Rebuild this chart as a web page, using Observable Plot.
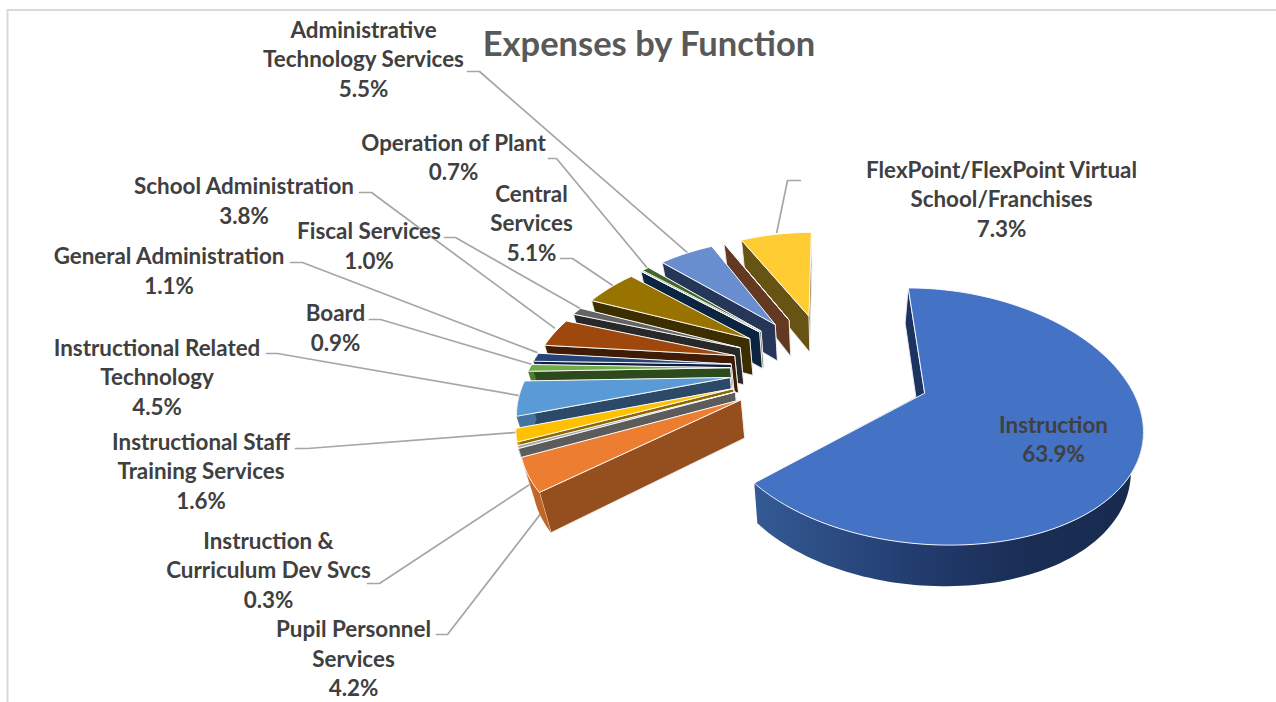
<!DOCTYPE html>
<html>
<head>
<meta charset="utf-8">
<title>Expenses by Function</title>
<script src="https://cdn.jsdelivr.net/npm/d3@7"></script>
<script src="https://cdn.jsdelivr.net/npm/@observablehq/plot@0.6"></script>
<style>
  html, body { margin: 0; padding: 0; background: #fff; }
  svg { display: block; }
</style>
</head>
<body>
<div id="chart"></div>
<script>
// Budget shares in clockwise order from twelve o'clock.
// Two empty categories carry no label but still draw a side wall.
const functions = [
  "Instruction", "Pupil Personnel\nServices", "Instruction &\nCurriculum Dev Svcs",
  "Instructional Staff\nTraining Services", "Instructional Related\nTechnology", "Board",
  "General Administration", "School Administration", "Fiscal Services", "Central\nServices",
  "", "Operation of Plant", "Administrative\nTechnology Services", "",
  "FlexPoint/FlexPoint Virtual\nSchool/Franchises"
];
const shares = [63.9, 4.2, 0.3, 1.6, 4.5, 0.9, 1.1, 3.8, 1.0, 5.1, 0, 0.7, 5.5, 0, 7.3];
const topColors = [
  "#4472C4", "#ED7D31", "#A5A5A5", "#FFC000", "#5B9BD5", "#70AD47", "#264478", "#9E480E",
  "#636363", "#997300", "#255E91", "#43682B", "#698ED0", "#F1975A", "#FFCD33"
];
const wallColors = [
  "#1A3360", "#954F1E", "#5C5C5C", "#8A6A05", "#2C4A68", "#2C4A1C", "#101F3E", "#3F1C05",
  "#282828", "#3D2E00", "#0B2540", "#243A17", "#263659", "#633922", "#675414"
];

// Label placement: centre of the text block, the leader's stub, and a small leader end offset.
const labelLayout = [
  {at: [1053, 437.5]},
  {at: [353, 657], stub: [[436, 634], [447, 634]], nudge: [12, 39]},
  {at: [268, 568.5], stub: [[367, 583], [379, 583]], nudge: [12, 37]},
  {at: [200.5, 469.5], stub: [[295, 448], [307, 448]], nudge: [0, -3]},
  {at: [156.5, 375.5], stub: [[266, 353], [277, 353]], nudge: [1, -3]},
  {at: [335, 326], stub: [[369, 319], [380, 319]], nudge: [1, -4]},
  {at: [168.5, 269], stub: [[290, 262], [302, 262]], nudge: [1, -5]},
  {at: [243.5, 199], stub: [[359, 192], [371, 192]], nudge: [0, -5]},
  {at: [368.5, 244], stub: [[444, 237], [455, 237]], nudge: [3, -3]},
  {at: [531, 221.5], stub: [[560, 258], [572, 258]], nudge: [3, -2]},
  null,
  {at: [453, 155.5], stub: [[548, 158], [556, 158]], nudge: [2, -1]},
  {at: [363, 57.5], stub: [[467, 71], [479, 71]], nudge: [1, -1]},
  null,
  {at: [1001, 197.5], stub: [[800, 180], [787, 180]], nudge: [1, -2]}
];

// Perspective model of the tilted disc, in page pixels.
const view = {cx: 829.5, cy: 367, rx: 200, ry: 115, perspX: 0.2, perspY: 0.178, explode: 0.5, lean: 0.04};

const project = (x, y) => [
  view.cx + view.rx * x / (1 + view.perspX * y),
  view.cy - view.ry * y / (1 + view.perspY * y)
];
// The point under a top-face point, on the bottom face of the pie.
const under = (x, y) => {
  const [X, Y] = project(x, y);
  return [X + (view.cx - X) * view.lean, Y + 37.5 - 3 * y];
};

let running = 0;
const slices = shares.map((value, i) => {
  const a0 = running / 100 * 2 * Math.PI;
  running += value;
  const a1 = running / 100 * 2 * Math.PI;
  const mid = (a0 + a1) / 2;
  const ax = view.explode * Math.sin(mid), ay = view.explode * Math.cos(mid);
  const steps = Math.max(2, Math.ceil((a1 - a0) / (Math.PI / 120)));
  const arc = d3.range(steps + 1).map(k => {
    const t = a0 + (a1 - a0) * k / steps;
    return [ax + Math.sin(t), ay + Math.cos(t), Math.cos(t)];
  });
  const rimMid = [ax + Math.sin(mid), ay + Math.cos(mid)];
  return {i, value, ax, ay, arc, rimMid};
});

// One closed polygon per face, painted from the far slice to the near one.
const faces = [];
const addFace = (id, points, fill, stroke) => {
  for (const [x, y] of points) faces.push({id, x, y, fill, stroke});
};
const paintOrder = [...slices.slice(1).reverse(), slices[0]];
for (const s of paintOrder) {
  const top = topColors[s.i], wall = wallColors[s.i];
  const first = s.arc[0], last = s.arc[s.arc.length - 1];
  const rimFill = s.i === 0 ? "url(#instructionRim)" : d3.interpolateRgb(top, wall)(0.5);
  addFace(`w1-${s.i}`, [project(s.ax, s.ay), project(last[0], last[1]), under(last[0], last[1]), under(s.ax, s.ay)], wall, "#EDEDED");
  addFace(`w0-${s.i}`, [project(s.ax, s.ay), project(first[0], first[1]), under(first[0], first[1]), under(s.ax, s.ay)], wall, "#EDEDED");
  // Only the part of the outer wall that faces the viewer is drawn.
  const front = s.arc.filter(p => p[2] < 0.1);
  if (front.length > 1) {
    addFace(`r-${s.i}`, [
      ...front.map(p => project(p[0], p[1])),
      ...front.slice().reverse().map(p => under(p[0], p[1]))
    ], rimFill, "none");
  }
  addFace(`t-${s.i}`, [project(s.ax, s.ay), ...s.arc.map(p => project(p[0], p[1]))], top, "#FFFFFF");
}

const leaders = [];
const labels = [];
slices.forEach(s => {
  const layout = labelLayout[s.i];
  if (!layout) return;
  labels.push({
    x: layout.at[0],
    y: layout.at[1],
    text: `${functions[s.i]}\n${s.value.toFixed(1)}%`
  });
  if (!layout.stub) return;
  const [ex, ey] = project(...s.rimMid);
  const path = [...layout.stub, [ex + layout.nudge[0], ey + layout.nudge[1]]];
  path.forEach(([x, y]) => leaders.push({id: s.i, x, y}));
});

const chart = Plot.plot({
  width: 1276,
  height: 702,
  margin: 0,
  x: {domain: [0, 1276], range: [0, 1276], axis: null},
  y: {domain: [0, 702], range: [0, 702], axis: null},
  color: {type: "identity"},
  style: {background: "#fff", fontFamily: "Lato, 'Open Sans', sans-serif"},
  marks: [
    Plot.ruleY([9.5], {x1: 7, x2: 1276, stroke: "#D9D9D9", strokeWidth: 2}),
    Plot.ruleX([7], {y1: 9, y2: 702, stroke: "#D9D9D9", strokeWidth: 2}),
    Plot.line(leaders, {x: "x", y: "y", z: "id", stroke: "#A6A6A6", strokeWidth: 1.7}),
    Plot.line(faces, {
      x: "x", y: "y", z: "id", fill: "fill", stroke: "stroke",
      strokeWidth: 0.9, curve: "linear-closed"
    }),
    Plot.text(labels, {
      x: "x", y: "y", text: "text", lineAnchor: "middle", lineHeight: 1.315,
      fontSize: 22.4, fontWeight: 700, fill: "#404040"
    }),
    Plot.text(["Expenses by Function"], {
      x: () => 648.5, y: () => 44, text: d => d, lineAnchor: "middle",
      fontSize: 34.5, fontWeight: 700, fill: "#595959"
    })
  ]
});

// Horizontal shading for the curved outer wall of the largest slice.
const ns = "http://www.w3.org/2000/svg";
const defs = document.createElementNS(ns, "defs");
const gradient = document.createElementNS(ns, "linearGradient");
gradient.setAttribute("id", "instructionRim");
gradient.setAttribute("gradientUnits", "userSpaceOnUse");
gradient.setAttribute("x1", 755);
gradient.setAttribute("x2", 1140);
gradient.setAttribute("y1", 0);
gradient.setAttribute("y2", 0);
[[0, "#345A94"], [0.4, "#233D70"], [0.7, "#1A2E55"], [1, "#182A4E"]].forEach(([offset, color]) => {
  const stop = document.createElementNS(ns, "stop");
  stop.setAttribute("offset", offset);
  stop.setAttribute("stop-color", color);
  gradient.appendChild(stop);
});
defs.appendChild(gradient);
chart.insertBefore(defs, chart.firstChild);

document.getElementById("chart").appendChild(chart);
</script>
</body>
</html>
